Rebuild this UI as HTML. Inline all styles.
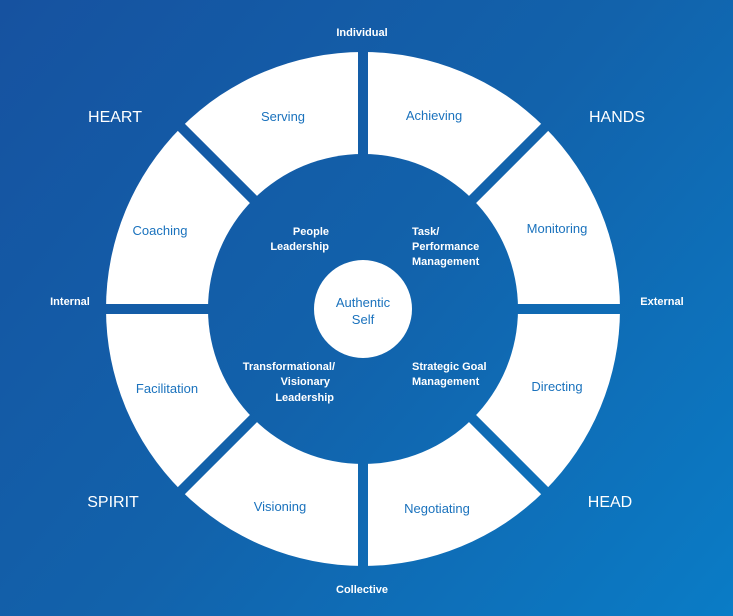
<!DOCTYPE html>
<html><head><style>html,body{margin:0;padding:0;}svg{display:block}</style></head>
<body>
<svg width="733" height="616" viewBox="0 0 733 616" xmlns="http://www.w3.org/2000/svg" font-family="Liberation Sans, sans-serif">
<defs>
<linearGradient id="bg" gradientUnits="userSpaceOnUse" x1="0" y1="0" x2="733" y2="616">
<stop offset="0" stop-color="#1652a0"/>
<stop offset="0.5" stop-color="#1262ab"/>
<stop offset="1" stop-color="#0a7cc6"/>
</linearGradient>
</defs>
<rect width="733" height="616" fill="url(#bg)"/>
<circle cx="363" cy="309" r="257" fill="#fff"/>
<g stroke="url(#bg)" stroke-width="10">
<line x1="363" y1="40" x2="363" y2="578"/>
<line x1="94" y1="309" x2="632" y2="309"/>
<line x1="173" y1="119" x2="553" y2="499"/>
<line x1="553" y1="119" x2="173" y2="499"/>
</g>
<circle cx="363" cy="309" r="155" fill="url(#bg)"/>
<circle cx="363" cy="309" r="49" fill="#fff"/>
<g fill="#1a72bd" font-size="13" text-anchor="middle">
<text x="283" y="121">Serving</text>
<text x="434" y="120">Achieving</text>
<text x="557" y="233">Monitoring</text>
<text x="557" y="391">Directing</text>
<text x="437" y="513">Negotiating</text>
<text x="280" y="511">Visioning</text>
<text x="167" y="393">Facilitation</text>
<text x="160" y="235">Coaching</text>
<text x="363" y="307">Authentic</text>
<text x="363" y="324">Self</text>
</g>
<g fill="#fff" font-size="16" text-anchor="middle">
<text x="115" y="122">HEART</text>
<text x="617" y="122">HANDS</text>
<text x="113" y="507">SPIRIT</text>
<text x="610" y="507">HEAD</text>
</g>
<g fill="#fff" font-size="11" font-weight="bold">
<text x="362" y="36" text-anchor="middle">Individual</text>
<text x="362" y="593" text-anchor="middle">Collective</text>
<text x="70" y="305" text-anchor="middle">Internal</text>
<text x="662" y="305" text-anchor="middle">External</text>
<g text-anchor="end">
<text x="329" y="235">People</text>
<text x="329" y="250">Leadership</text>
<text x="335" y="370">Transformational/</text>
<text x="330" y="385">Visionary</text>
<text x="334" y="401">Leadership</text>
</g>
<text x="412" y="235">Task/</text>
<text x="412" y="250">Performance</text>
<text x="412" y="265">Management</text>
<text x="412" y="370">Strategic Goal</text>
<text x="412" y="385">Management</text>
</g>
</svg>
</body></html>
